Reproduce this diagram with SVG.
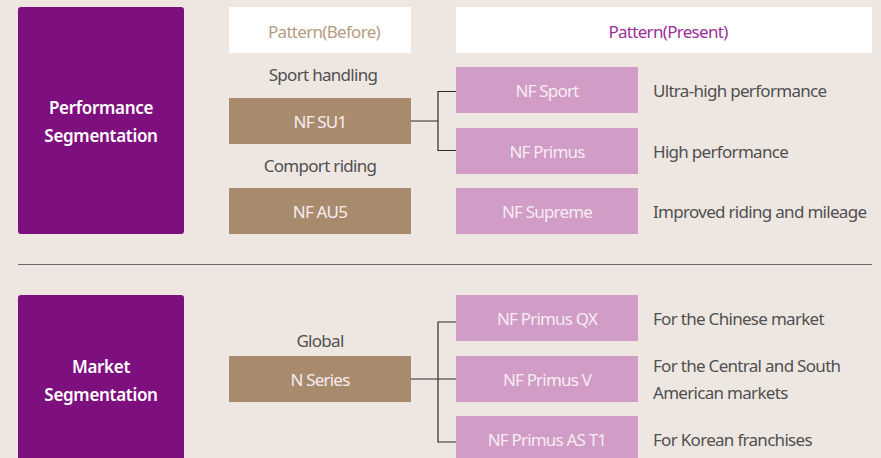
<svg xmlns="http://www.w3.org/2000/svg" width="881" height="458" viewBox="0 0 881 458">
<style>
text{font-family:"Noto Sans","DejaVu Sans",sans-serif;letter-spacing:-0.6px}
.seg{fill:#7E0F7E}
.segt{fill:#fff;font-size:17px;font-weight:600;text-anchor:middle;letter-spacing:-0.3px}
.hdr{fill:#fff}
.old{fill:#A88B6C}
.new{fill:#D19CC6}
.bt{fill:#F7ECF2;font-size:17px;text-anchor:middle;letter-spacing:-0.8px}
.lbl{fill:#505050;font-size:17px;text-anchor:middle;letter-spacing:-0.7px}
.desc{fill:#505050;font-size:17px;letter-spacing:-0.7px}
.con{fill:none;stroke:#2b2b2b;stroke-width:1.2}
</style>
<rect width="881" height="458" fill="#EEE7E1"/>
<g id="seg-performance"><rect class="seg" x="18" y="7" width="166" height="227" rx="3"/><text class="segt" x="101" y="114">Performance</text><text class="segt" x="101" y="142">Segmentation</text></g>
<g id="seg-market"><rect class="seg" x="18" y="295" width="166" height="175" rx="3"/><text class="segt" x="101" y="373">Market</text><text class="segt" x="101" y="401">Segmentation</text></g>
<g id="hdr-before"><rect class="hdr" x="229" y="7" width="182" height="46"/><text x="324" y="38" style="fill:#B59B80;font-size:17px;text-anchor:middle;letter-spacing:-0.7px">Pattern(Before)</text></g>
<g id="hdr-present"><rect class="hdr" x="456" y="7" width="416" height="46"/><text x="668" y="38" style="fill:#9B2F9B;font-size:17px;text-anchor:middle;letter-spacing:-0.7px">Pattern(Present)</text></g>
<g id="lbl-sport"><text class="lbl" x="323" y="81">Sport handling</text></g>
<g id="nf-su1"><rect class="old" x="229" y="98" width="182" height="46"/><text class="bt" x="320" y="128">NF SU1</text></g>
<g id="lbl-comport"><text class="lbl" x="320" y="172">Comport riding</text></g>
<g id="nf-au5"><rect class="old" x="229" y="188" width="182" height="46"/><text class="bt" x="320" y="218">NF AU5</text></g>
<g id="nf-sport"><rect class="new" x="456" y="67" width="182" height="46"/><text class="bt" x="547" y="97">NF Sport</text><text class="desc" x="653" y="97">Ultra-high performance</text></g>
<g id="nf-primus"><rect class="new" x="456" y="128" width="182" height="46"/><text class="bt" x="547" y="158">NF Primus</text><text class="desc" x="653" y="158">High performance</text></g>
<g id="nf-supreme"><rect class="new" x="456" y="188" width="182" height="46"/><text class="bt" x="547" y="218">NF Supreme</text><text class="desc" x="653" y="218">Improved riding and mileage</text></g>
<g id="separator"><line x1="18" y1="264.5" x2="872" y2="264.5" stroke="#6e6a66" stroke-width="1.2"/></g>
<g id="lbl-global"><text class="lbl" x="320" y="347">Global</text></g>
<g id="n-series"><rect class="old" x="229" y="356" width="182" height="46"/><text class="bt" x="320" y="386">N Series</text></g>
<g id="nf-primus-qx"><rect class="new" x="456" y="295" width="182" height="46"/><text class="bt" x="547" y="325">NF Primus QX</text><text class="desc" x="653" y="325">For the Chinese market</text></g>
<g id="nf-primus-v"><rect class="new" x="456" y="356" width="182" height="46"/><text class="bt" x="547" y="386">NF Primus V</text><text class="desc" x="653" y="372">For the Central and South</text><text class="desc" x="653" y="399">American markets</text></g>
<g id="nf-primus-ast1"><rect class="new" x="456" y="416" width="182" height="50"/><text class="bt" x="547" y="446">NF Primus AS T1</text><text class="desc" x="653" y="446">For Korean franchises</text></g>
<g id="connectors">
<path class="con" d="M411 121H438M456 91.5H438V150.5H456"/>
<path class="con" d="M411 379H438M456 322H438V442H456M438 379H456"/>
</g>
</svg>
